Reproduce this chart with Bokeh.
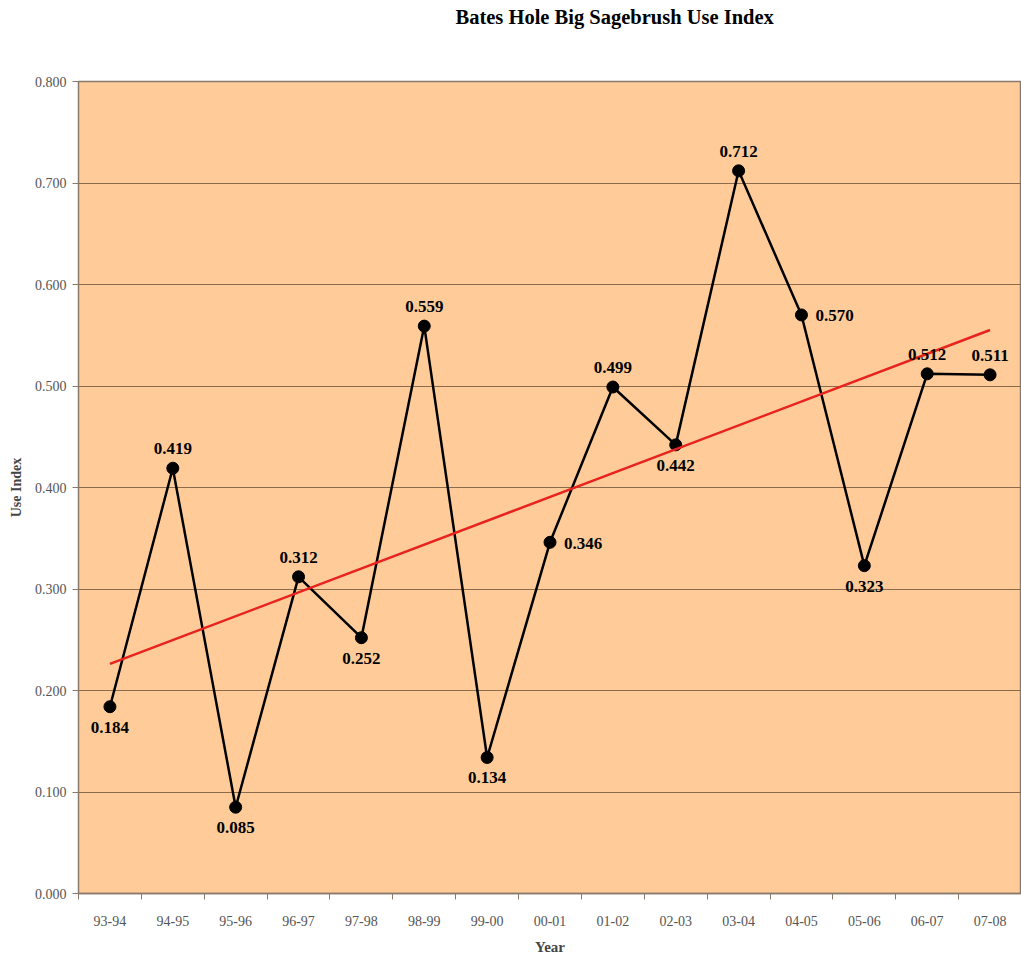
import numpy as np
from bokeh.plotting import figure
from bokeh.models import Range1d, FixedTicker, ColumnDataSource, NumeralTickFormatter, Title
from bokeh.core.properties import value
from bokeh.embed import file_html
from bokeh.resources import INLINE

years = ["93-94", "94-95", "95-96", "96-97", "97-98", "98-99", "99-00", "00-01",
         "01-02", "02-03", "03-04", "04-05", "05-06", "06-07", "07-08"]
use_index = [0.184, 0.419, 0.085, 0.312, 0.252, 0.559, 0.134, 0.346,
             0.499, 0.442, 0.712, 0.570, 0.323, 0.512, 0.511]
label_side = ["below", "above", "below", "above", "below", "above", "below", "right",
              "above", "below", "above", "right", "below", "above", "above"]
y_ticks = [0.0, 0.1, 0.2, 0.3, 0.4, 0.5, 0.6, 0.7, 0.8]
title_text = "Bates Hole Big Sagebrush Use Index"

SERIF = "Liberation Serif"
n = len(years)
xs = [i + 0.5 for i in range(n)]

p = figure(width=1021, height=957, output_backend="svg", toolbar_location=None,
           x_range=Range1d(0, n), y_range=Range1d(0, 0.8),
           min_border_left=78, min_border_right=0, min_border_top=81, min_border_bottom=62)
p.border_fill_color = "white"
p.background_fill_color = "#FFCC99"
p.outline_line_color = "#8a7a6c"
p.outline_line_width = 1.5

p.title.text = title_text
p.title.align = "left"
p.title.offset = 377
p.title.vertical_align = "top"
p.title.standoff = 10
p.title.text_font = SERIF
p.title.text_font_size = "20.5px"
p.title.text_font_style = "bold"
p.title.text_color = "black"

# invisible spacer between title and plot frame
p.add_layout(Title(text=" ", text_font_size="1px", standoff=44), "above")

# grid
p.xgrid.visible = False
p.ygrid.ticker = FixedTicker(ticks=y_ticks)
p.ygrid.grid_line_color = "#8c6b4c"
p.ygrid.grid_line_width = 1.2

# y axis
p.yaxis.ticker = FixedTicker(ticks=y_ticks)
p.yaxis.formatter = NumeralTickFormatter(format="0.000")
p.yaxis.axis_label = "Use Index"
p.yaxis.axis_label_text_font = SERIF
p.yaxis.axis_label_text_font_size = "14px"
p.yaxis.axis_label_text_font_style = "bold"
p.yaxis.axis_label_standoff = 8
p.yaxis.major_label_text_font = SERIF
p.yaxis.major_label_text_font_size = "14px"
p.yaxis.major_label_text_color = "#555555"
p.yaxis.major_label_standoff = 6
p.yaxis.major_tick_out = 6
p.yaxis.major_tick_in = 0
p.yaxis.minor_tick_line_color = None
p.yaxis.axis_line_color = "#8a7a6c"
p.yaxis.major_tick_line_color = "#8a7a6c"

# x axis: labels at category centres, ticks between categories
p.xaxis.ticker = FixedTicker(ticks=xs, minor_ticks=list(range(n + 1)))
p.xaxis.major_label_overrides = {x: y for x, y in zip(xs, years)}
p.xaxis.major_tick_line_color = None
p.xaxis.minor_tick_out = 6
p.xaxis.minor_tick_in = 0
p.xaxis.minor_tick_line_color = "#8a7a6c"
p.xaxis.axis_line_color = "#8a7a6c"
p.xaxis.axis_line_width = 1.5
p.xaxis.major_label_standoff = 16
p.xaxis.major_label_text_font = SERIF
p.xaxis.major_label_text_font_size = "14px"
p.xaxis.major_label_text_color = "#555555"
p.xaxis.axis_label = "Year"
p.xaxis.axis_label_text_font = SERIF
p.xaxis.axis_label_text_font_size = "15px"
p.xaxis.axis_label_text_font_style = "bold"
p.xaxis.axis_label_standoff = 10

# data line and markers
p.line(xs, use_index, line_color="black", line_width=2.5)
p.scatter(xs, use_index, size=12, fill_color="black", line_color="black")

# linear trend line (least squares)
slope, intercept = np.polyfit(np.arange(n), np.array(use_index), 1)
trend = [intercept + slope * i for i in range(n)]
p.line([xs[0], xs[-1]], [trend[0], trend[-1]], line_color="#e8221c", line_width=2.5)

# data labels
def add_labels(side, align, baseline, xo, yo):
    idx = [i for i in range(n) if label_side[i] == side]
    src = ColumnDataSource(dict(x=[xs[i] for i in idx], y=[use_index[i] for i in idx],
                                t=["%.3f" % use_index[i] for i in idx]))
    p.text("x", "y", text="t", source=src, text_align=align, text_baseline=baseline,
           x_offset=xo, y_offset=yo, text_font=value(SERIF), text_font_size="17px",
           text_font_style="bold", text_color="black")

add_labels("below", "center", "top", 0, 15)
add_labels("above", "center", "bottom", 0, -14)
add_labels("right", "left", "middle", 14, 1)

open("out.html", "w").write(file_html(p, INLINE))
